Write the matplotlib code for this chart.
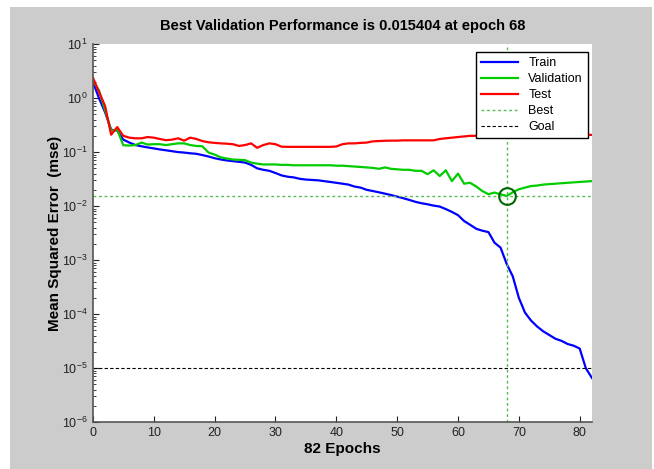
import numpy as np
import matplotlib
matplotlib.use("Agg")
import matplotlib.pyplot as plt
from matplotlib.patches import Rectangle

plt.rcParams['font.family'] = ['Liberation Sans', 'DejaVu Sans']

# MSE per epoch (epochs 0..82)
train = [2.0, 1.0, 0.55, 0.26, 0.25, 0.17, 0.15, 0.135, 0.128, 0.122,
         0.117, 0.112, 0.108, 0.104, 0.100, 0.098, 0.095, 0.093, 0.088, 0.083,
         0.077, 0.073, 0.070, 0.068, 0.066, 0.064, 0.058, 0.050, 0.047, 0.045,
         0.041, 0.037, 0.035, 0.034, 0.032, 0.031, 0.0305, 0.030, 0.029, 0.028,
         0.027, 0.026, 0.025, 0.023, 0.022, 0.020, 0.019, 0.018, 0.017, 0.016,
         0.015, 0.014, 0.013, 0.012, 0.0113, 0.0108, 0.0102, 0.0098, 0.0088, 0.0078,
         0.0068, 0.0053, 0.0045, 0.0038, 0.0035, 0.0033, 0.0021, 0.0017, 0.00085, 0.0005,
         0.0002, 0.000107, 0.000076, 0.000059, 0.000048, 0.000041, 0.000035, 0.000032, 0.000028, 0.000026,
         0.000023, 0.00001, 0.0000066]
validation = [2.1, 1.4, 0.6, 0.25, 0.26, 0.134, 0.132, 0.135, 0.15, 0.138,
              0.14, 0.14, 0.135, 0.14, 0.145, 0.145, 0.135, 0.13, 0.128, 0.098,
              0.09, 0.08, 0.076, 0.073, 0.072, 0.071, 0.064, 0.061, 0.059, 0.059,
              0.059, 0.058, 0.058, 0.057, 0.057, 0.057, 0.057, 0.057, 0.057, 0.057,
              0.056, 0.056, 0.055, 0.054, 0.053, 0.052, 0.051, 0.049, 0.052, 0.049,
              0.048, 0.047, 0.047, 0.045, 0.045, 0.039, 0.046, 0.036, 0.046, 0.029,
              0.040, 0.026, 0.027, 0.023, 0.019, 0.0166, 0.0178, 0.0165, 0.015404, 0.018,
              0.0205, 0.022, 0.0235, 0.024, 0.025, 0.0255, 0.026, 0.0265, 0.027, 0.0275,
              0.028, 0.0285, 0.029]
test = [2.4, 1.3, 0.72, 0.21, 0.29, 0.2, 0.185, 0.18, 0.18, 0.19,
        0.185, 0.175, 0.166, 0.17, 0.18, 0.163, 0.185, 0.175, 0.16, 0.152,
        0.148, 0.145, 0.143, 0.14, 0.13, 0.135, 0.145, 0.12, 0.135, 0.145,
        0.14, 0.126, 0.125, 0.125, 0.125, 0.125, 0.125, 0.125, 0.125, 0.125,
        0.127, 0.14, 0.145, 0.145, 0.148, 0.15, 0.158, 0.16, 0.162, 0.163,
        0.163, 0.165, 0.165, 0.165, 0.165, 0.165, 0.165, 0.175, 0.18, 0.185,
        0.19, 0.195, 0.2, 0.2, 0.205, 0.21, 0.215, 0.22, 0.225, 0.225,
        0.225, 0.228, 0.228, 0.228, 0.228, 0.228, 0.225, 0.222, 0.218, 0.215,
        0.212, 0.21, 0.208]
epochs = np.arange(len(train))

best_epoch = 68
best_perf = 0.015404
goal = 1e-5

fig = plt.figure(figsize=(6.54, 4.69), dpi=100, facecolor='white')
fig.patches.append(Rectangle((10 / 654, 0), 642 / 654, 462 / 469,
                             transform=fig.transFigure, facecolor='#cccccc',
                             edgecolor='none', zorder=-10))
ax = fig.add_axes([0.142, 0.1, 0.763, 0.806])
ax.set_facecolor('white')

ax.semilogy(epochs, train, color='#0000ff', lw=1.6, label='Train')
ax.semilogy(epochs, validation, color='#00cc00', lw=1.6, label='Validation')
ax.semilogy(epochs, test, color='#ff0000', lw=1.6, label='Test')
ax.axvline(best_epoch, color='#55bb55', ls=(0, (2, 2)), lw=1.0)
ax.axhline(best_perf, color='#55bb55', ls=(0, (2, 2)), lw=1.0, label='Best')
ax.axhline(goal, color='black', ls=(0, (3, 2)), lw=0.8, label='Goal')
ax.plot([best_epoch], [best_perf], 'o', ms=12, mfc='none', mec='#006600', mew=1.5)

ax.set_xlim(0, 82)
ax.set_ylim(1e-6, 10)
ax.set_xticks(np.arange(0, 81, 10))
ax.set_yticks([10.0 ** k for k in range(-6, 2)])

for s in ['top', 'right']:
    ax.spines[s].set_visible(False)
for s in ['left', 'bottom']:
    ax.spines[s].set_color('#555555')
    ax.spines[s].set_linewidth(1.2)
ax.tick_params(which='both', direction='in', labelsize=9, colors='#222222')
ax.tick_params(which='major', length=4)
ax.tick_params(which='minor', length=2)

ax.set_title('Best Validation Performance is 0.015404 at epoch 68',
             fontsize=10.5, fontweight='bold', pad=10)
ax.set_xlabel('82 Epochs', fontsize=11, fontweight='bold', labelpad=2)
ax.set_ylabel('Mean Squared Error  (mse)', fontsize=11, fontweight='bold', labelpad=0)

leg = ax.legend(loc='upper right', bbox_to_anchor=(0.992, 0.979), borderaxespad=0,
                fontsize=9, fancybox=False, framealpha=1, edgecolor='black',
                handlelength=3.0, borderpad=0.4, labelspacing=0.32)
leg.get_frame().set_linewidth(1.0)

fig.savefig('out.png', dpi=100, facecolor=fig.get_facecolor())
